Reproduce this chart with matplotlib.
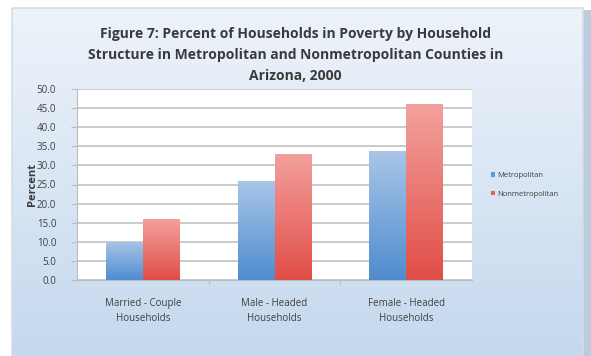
import numpy as np
import matplotlib.pyplot as plt
from matplotlib.colors import LinearSegmentedColormap
from matplotlib.patches import Rectangle

categories = ["Married - Couple\nHouseholds", "Male - Headed\nHouseholds", "Female - Headed\nHouseholds"]
metro = [10.0, 26.0, 33.8]
nonmetro = [16.0, 33.0, 46.0]
series_names = ["Metropolitan", "Nonmetropolitan"]
yticks = np.arange(0, 50.1, 5)

W, H = 591, 356
fig = plt.figure(figsize=(W / 100, H / 100), dpi=100)
fig.patch.set_facecolor("white")

# chart frame with soft blue gradient
bg = fig.add_axes([0, 0, 1, 1], zorder=-5)
bg.set_xlim(0, W)
bg.set_ylim(H, 0)
bg.axis("off")
bg.add_patch(Rectangle((583, 10), 8, H, color="#bccbde", lw=0))
grad = np.linspace(0, 1, 256).reshape(-1, 1)
bgcmap = LinearSegmentedColormap.from_list("bg", ["#eef3fa", "#d9e6f4", "#c5d8ee"])
bg.imshow(grad, cmap=bgcmap, extent=[12, 583, H, 8], aspect="auto")
bg.add_patch(Rectangle((12, 8), 571, H, fill=False, ec="#d4dde8", lw=1.2))

fig.text(0.5, 1 - 55 / H, "Figure 7: Percent of Households in Poverty by Household\n"
         "Structure in Metropolitan and Nonmetropolitan Counties in\nArizona, 2000",
         ha="center", va="center", fontsize=10, fontweight="bold", color="#3a3a3a",
         family="Open Sans", linespacing=1.6)

ax = fig.add_axes([77 / W, 1 - 280 / H, (472 - 77) / W, (280 - 89) / H])
ax.set_facecolor("white")
x = np.arange(len(categories))
w = 0.28
b1 = ax.bar(x - w / 2, metro, w, color="#5b9bd5", label=series_names[0], zorder=2)
b2 = ax.bar(x + w / 2, nonmetro, w, color="#e8605a", label=series_names[1], zorder=2)

# vertical gradient fill on bars
cm_blue = LinearSegmentedColormap.from_list("b", ["#4f8ccf", "#a9c6e8"])
cm_red = LinearSegmentedColormap.from_list("r", ["#e14d47", "#f3a19d"])
for bars, cm in ((b1, cm_blue), (b2, cm_red)):
    for bar in bars:
        x0 = bar.get_x()
        im = ax.imshow(grad[::-1], cmap=cm, extent=[x0, x0 + bar.get_width(), 0, bar.get_height()],
                       aspect="auto", zorder=3)
        im.set_clip_path(bar)

ax.set_xlim(-0.5, 2.5)
ax.set_ylim(0, 50)
ax.set_yticks(yticks)
ax.set_yticklabels([f"{v:.1f}" for v in yticks])
ax.set_xticks(x)
ax.set_xticklabels(categories, linespacing=1.5)
ax.set_xticks([0.5, 1.5], minor=True)
ax.yaxis.grid(True, color="#bcbcbc", lw=1.1, zorder=0)
ax.tick_params(axis="y", length=4, width=0.8, color="#bcbcbc", labelsize=7, labelcolor="#404040", pad=11)
ax.tick_params(axis="x", which="major", length=0, labelsize=7, labelcolor="#404040", pad=13)
ax.tick_params(axis="x", which="minor", length=3, width=0.8, color="#bcbcbc")
for lbl in ax.get_xticklabels() + ax.get_yticklabels():
    lbl.set_family("Open Sans")
for s in ["top", "right"]:
    ax.spines[s].set_visible(False)
ax.spines["left"].set_color("#bcbcbc")
ax.spines["bottom"].set_color("#bcbcbc")
ax.set_ylabel("Percent", fontsize=8, fontweight="bold", color="#3a3a3a", family="Open Sans", labelpad=-1)

leg = fig.legend(handles=[b1, b2], loc="center left", bbox_to_anchor=(484 / W, 1 - 185 / H),
                 frameon=False, handlelength=0.5, handleheight=0.5,
                 handletextpad=0.4, labelspacing=1.5, prop={"family": "Open Sans", "size": 5.5})
for t in leg.get_texts():
    t.set_color("#404040")

fig.savefig("out.png", dpi=100)
